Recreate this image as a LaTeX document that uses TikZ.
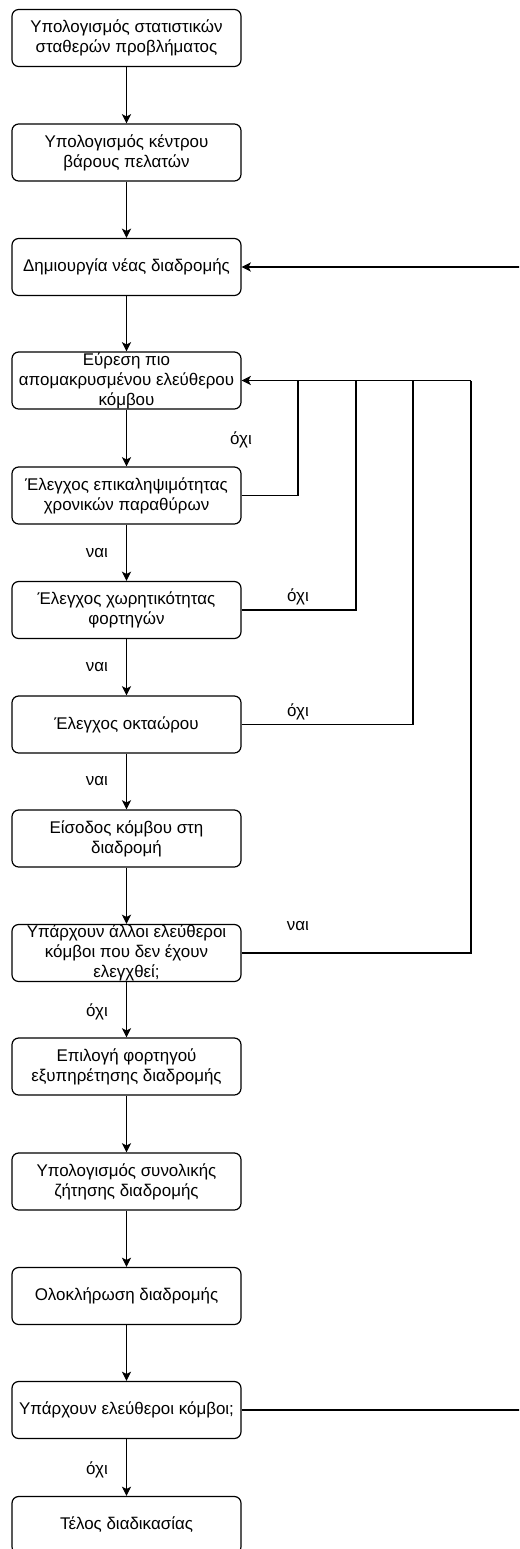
\documentclass[tikz,border=0pt]{standalone}
\usepackage{fontspec}
\setmainfont{Liberation Sans}
\usetikzlibrary{arrows.meta}
\tikzset{
  stepbox/.style={draw=black, line width=0.9pt, rounded corners=5pt, rectangle,
    minimum width=171.75pt, minimum height=42.75pt, inner sep=0pt, align=center,
    font=\fontsize{12.7pt}{15pt}\selectfont},
  flow/.style={draw=black, line width=0.8pt, -{Stealth[length=7pt,width=7pt,inset=1.8pt]}},
  line/.style={draw=black, line width=0.8pt},
  lbl/.style={font=\fontsize{12.7pt}{15pt}\selectfont, inner sep=0pt}
}
\begin{document}
\begin{tikzpicture}[x=0.75pt,y=-0.75pt]
\useasboundingbox (0,0) rectangle (519,1549);
\clip (0,0) rectangle (519,1549);
\node[stepbox] (b1) at (126.5,38) {Υπολογισμός στατιστικών\\σταθερών προβλήματος};
\node[stepbox] (b2) at (126.5,152.5) {Υπολογισμός κέντρου\\βάρους πελατών};
\node[stepbox] (b3) at (126.5,267) {Δημιουργία νέας διαδρομής};
\node[stepbox] (b4) at (126.5,380.5) {Εύρεση πιο\\απομακρυσμένου ελεύθερου\\κόμβου};
\node[stepbox] (b5) at (126.5,495.5) {Έλεγχος επικαληψιμότητας\\χρονικών παραθύρων};
\node[stepbox] (b6) at (126.5,610) {Έλεγχος χωρητικότητας\\φορτηγών};
\node[stepbox] (b7) at (126.5,724.5) {Έλεγχος οκταώρου};
\node[stepbox] (b8) at (126.5,838.5) {Είσοδος κόμβου στη\\διαδρομή};
\node[stepbox] (b9) at (126.5,953) {Υπάρχουν άλλοι ελεύθεροι\\κόμβοι που δεν έχουν\\ελεγχθεί;};
\node[stepbox] (b10) at (126.5,1066.5) {Επιλογή φορτηγού\\εξυπηρέτησης διαδρομής};
\node[stepbox] (b11) at (126.5,1181.5) {Υπολογισμός συνολικής\\ζήτησης διαδρομής};
\node[stepbox] (b12) at (126.5,1296) {Ολοκλήρωση διαδρομής};
\node[stepbox] (b13) at (126.5,1410) {Υπάρχουν ελεύθεροι κόμβοι;};
\node[stepbox] (b14) at (126.5,1525) {Τέλος διαδικασίας};

\foreach \a/\b in {b1/b2,b2/b3,b3/b4,b4/b5,b5/b6,b6/b7,b7/b8,b8/b9,b9/b10,b10/b11,b11/b12,b12/b13,b13/b14}
  \draw[flow] (\a) -- (\b);

% loops back to b4
\coordinate (j4) at (471,380.5);
\draw[flow] (j4) -- (b4.east);
\draw[line] (b5.east) -| (298,380.5);
\draw[line] (b6.east) -| (356,380.5);
\draw[line] (b7.east) -| (413,380.5);
\draw[line] (b9.east) -| (j4);

% off-page loop back to b3
\coordinate (r3) at (520,267);
\coordinate (r13) at (520,1410);
\draw[flow] (r3) -- (b3.east);
\draw[line] (b13.east) -- (r13);

% labels
\node[lbl] (l1) at (241,440) {όχι};
\node[lbl] (l2) at (97,553) {ναι};
\node[lbl] (l3) at (298,597) {όχι};
\node[lbl] (l4) at (97,667) {ναι};
\node[lbl] (l5) at (298,712) {όχι};
\node[lbl] (l6) at (97,781) {ναι};
\node[lbl] (l7) at (298,926) {ναι};
\node[lbl] (l8) at (97,1012) {όχι};
\node[lbl] (l9) at (97,1470) {όχι};
\end{tikzpicture}
\end{document}
